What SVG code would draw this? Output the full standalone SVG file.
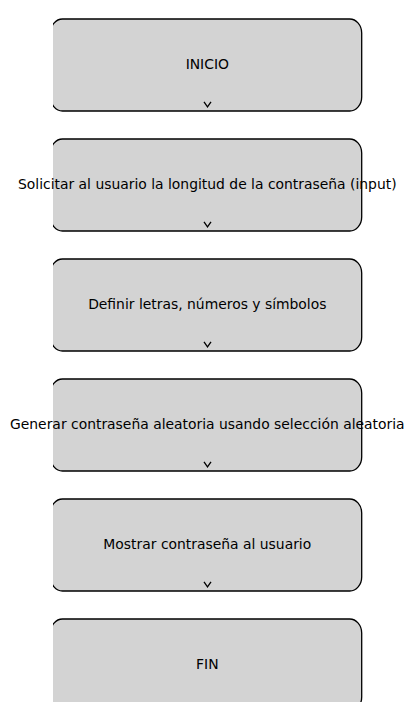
<svg xmlns="http://www.w3.org/2000/svg" width="415" height="713" viewBox="0 0 415 713">
<style>
.box{fill:#d3d3d3;stroke:#000;stroke-width:1.3}
.lbl{font-family:"DejaVu Sans",sans-serif;font-size:13.9px;fill:#000;text-anchor:middle}
.arr{fill:none;stroke:#000;stroke-width:1.3}
</style>
<defs>
<clipPath id="ax"><rect x="53" y="0" width="362" height="702"/></clipPath>
</defs>
<rect width="415" height="713" fill="#fff"/>
<g id="n1"><rect class="box" clip-path="url(#ax)" x="50.5" y="19" width="311.2" height="92" rx="12" ry="14"/><text class="lbl" x="207.3" y="69.2">INICIO</text></g>
<g id="n2"><rect class="box" clip-path="url(#ax)" x="50.5" y="139" width="311.2" height="92" rx="12" ry="14"/><text class="lbl" x="207.3" y="189.2">Solicitar al usuario la longitud de la contraseña (input)</text></g>
<g id="n3"><rect class="box" clip-path="url(#ax)" x="50.5" y="259" width="311.2" height="92" rx="12" ry="14"/><text class="lbl" x="207.3" y="309.2">Definir letras, números y símbolos</text></g>
<g id="n4"><rect class="box" clip-path="url(#ax)" x="50.5" y="379" width="311.2" height="92" rx="12" ry="14"/><text class="lbl" x="207.3" y="429.2">Generar contraseña aleatoria usando selección aleatoria</text></g>
<g id="n5"><rect class="box" clip-path="url(#ax)" x="50.5" y="499" width="311.2" height="92" rx="12" ry="14"/><text class="lbl" x="207.3" y="549.2">Mostrar contraseña al usuario</text></g>
<g id="n6"><rect class="box" clip-path="url(#ax)" x="50.5" y="619" width="311.2" height="92" rx="12" ry="14"/><text class="lbl" x="207.3" y="669.2">FIN</text></g>
<g id="connectors">
<path class="arr" d="M204,101.8 L207.5,106.8 L211,101.8"/>
<path class="arr" d="M204,221.8 L207.5,226.8 L211,221.8"/>
<path class="arr" d="M204,341.8 L207.5,346.8 L211,341.8"/>
<path class="arr" d="M204,461.8 L207.5,466.8 L211,461.8"/>
<path class="arr" d="M204,581.8 L207.5,586.8 L211,581.8"/>
</g>
</svg>
